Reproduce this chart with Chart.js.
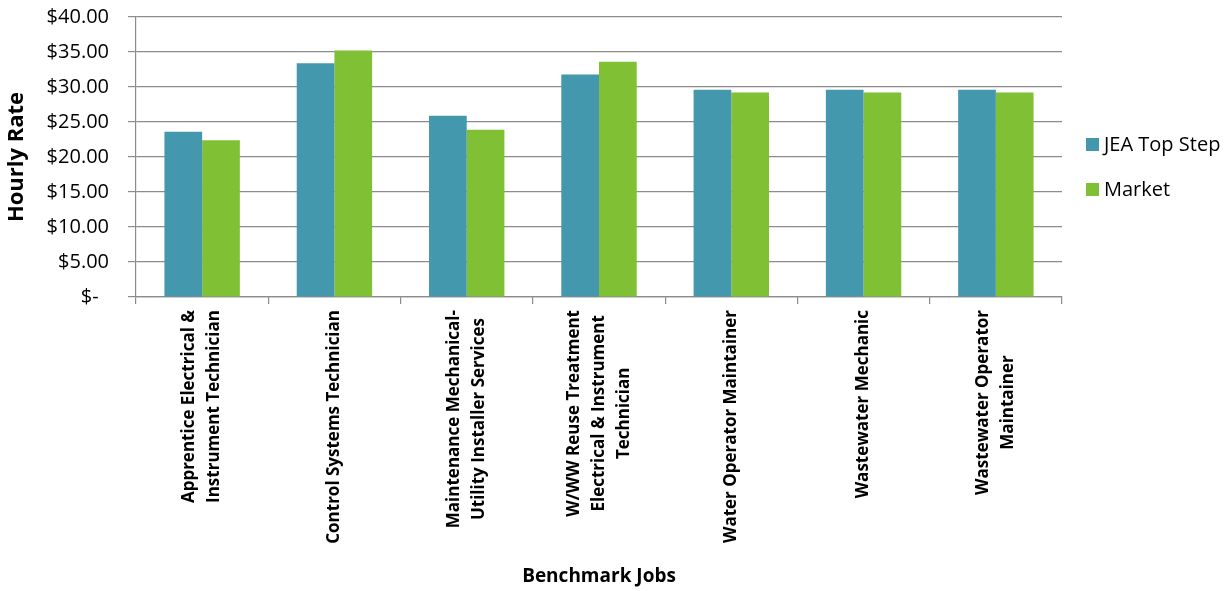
<!DOCTYPE html>
<html>
<head>
<meta charset="utf-8">
<script src="https://cdn.jsdelivr.net/npm/chart.js@4.4.1/dist/chart.umd.min.js"></script>
<style>
	html, body { margin: 0; padding: 0; background: #fff; }
	#wrap { width: 1226px; height: 591px; position: relative; }
</style>
</head>
<body>
<div id="wrap"><canvas id="rateChart"></canvas></div>
<script>
// Benchmark jobs, one entry of text lines per category
const jobs = [
	['Apprentice Electrical &', 'Instrument Technician'],
	['Control Systems Technician'],
	['Maintenance Mechanical-', 'Utility Installer Services'],
	['W/WW Reuse Treatment', 'Electrical & Instrument', 'Technician'],
	['Water Operator Maintainer'],
	['Wastewater Mechanic'],
	['Wastewater Operator', 'Maintainer']
];
const jeaTopStep = [23.6, 33.4, 25.9, 31.8, 29.6, 29.6, 29.6];
const market = [22.4, 35.2, 23.9, 33.6, 29.2, 29.2, 29.2];
const seriesNames = ['JEA Top Step', 'Market'];
const seriesColors = ['#4398AE', '#80C034'];

const gridColor = '#8c8c8c';

// draws the rotated job names, each line centred on the longest one
const jobLabels = {
	id: 'jobLabels',
	afterDraw(chart) {
		const ctx = chart.ctx;
		const x = chart.scales.x;
		ctx.save();
		ctx.font = 'bold 17px "Open Sans"';
		ctx.fillStyle = '#000';
		ctx.textAlign = 'center';
		ctx.textBaseline = 'middle';
		jobs.forEach(function(lines, i) {
			const cx = x.getPixelForValue(i);
			const maxW = Math.max.apply(null, lines.map(l => ctx.measureText(l).width));
			ctx.save();
			ctx.translate(cx, x.top + 13 + maxW / 2);
			ctx.rotate(-Math.PI / 2);
			lines.forEach(function(l, j) {
				ctx.fillText(l, 0, (j - (lines.length - 1) / 2) * 25);
			});
			ctx.restore();
		});
		ctx.restore();
	}
};

// legend at the right side, like the excel one
const sideLegend = {
	id: 'sideLegend',
	afterDraw(chart) {
		const ctx = chart.ctx;
		ctx.save();
		ctx.font = '20px "Open Sans"';
		ctx.textBaseline = 'middle';
		ctx.textAlign = 'left';
		seriesNames.forEach(function(name, i) {
			const cy = 144.5 + i * 45;
			ctx.fillStyle = seriesColors[i];
			ctx.fillRect(1086, cy - 6.5, 13, 13);
			ctx.fillStyle = '#000';
			ctx.fillText(name, 1104, cy + 1);
		});
		ctx.restore();
	}
};

const ctx = document.getElementById('rateChart').getContext('2d');
new Chart(ctx, {
	type: 'bar',
	data: {
		labels: jobs.map(l => l.join(' ')),
		datasets: [{
			label: seriesNames[0],
			data: jeaTopStep,
			backgroundColor: seriesColors[0],
			categoryPercentage: 0.57,
			barPercentage: 1.0
		}, {
			label: seriesNames[1],
			data: market,
			backgroundColor: seriesColors[1],
			categoryPercentage: 0.57,
			barPercentage: 1.0
		}]
	},
	options: {
		responsive: true,
		maintainAspectRatio: false,
		animation: false,
		layout: {
			padding: { top: 17, right: 164, bottom: 0, left: 0 }
		},
		plugins: {
			legend: { display: false },
			tooltip: { enabled: false }
		},
		scales: {
			x: {
				grid: {
					display: true,
					drawOnChartArea: false,
					drawTicks: true,
					tickLength: 7,
					color: gridColor,
					lineWidth: 1.2,
					offset: true
				},
				border: { display: true, color: gridColor, width: 1.2 },
				ticks: { display: false },
				title: {
					display: true,
					text: 'Benchmark Jobs',
					color: '#000',
					font: { family: 'Open Sans', size: 19, weight: 'bold' },
					padding: { top: 0, bottom: 3 }
				},
				afterFit(scale) {
					scale.height = 294;
				}
			},
			y: {
				min: 0,
				max: 40,
				ticks: {
					stepSize: 5,
					color: '#000',
					padding: 19,
					font: { family: 'Open Sans', size: 20 },
					callback: function(v) {
						return v === 0 ? '$-  ' : '$' + v.toFixed(2);
					}
				},
				grid: {
					color: gridColor,
					lineWidth: 1.2,
					tickLength: 8
				},
				border: { display: true, color: gridColor, width: 1.2 },
				title: {
					display: true,
					text: 'Hourly Rate',
					color: '#000',
					font: { family: 'Open Sans', size: 22, weight: 'bold' },
					padding: { top: 4, bottom: 0 }
				},
				afterFit(scale) {
					scale.width = 136;
					// labels may hang over the top, the layout padding covers it
					scale.paddingTop = 0;
					scale.paddingBottom = 0;
				}
			}
		}
	},
	plugins: [jobLabels, sideLegend]
});
</script>
</body>
</html>
